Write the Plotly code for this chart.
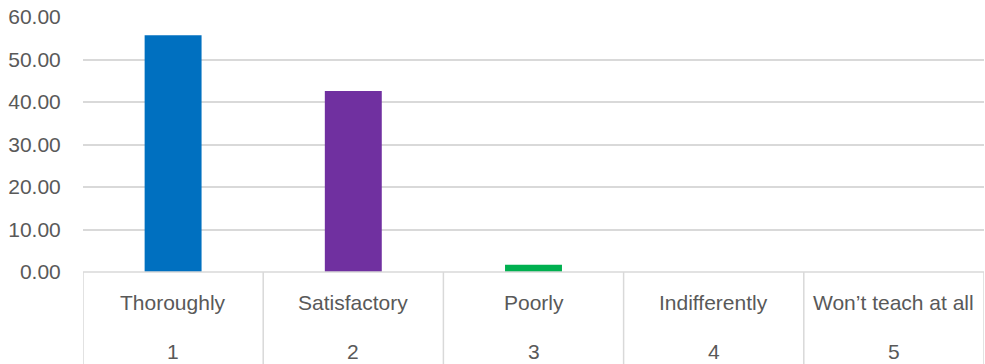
import plotly.graph_objects as go

categories = ["Thoroughly", "Satisfactory", "Poorly", "Indifferently", "Won\u2019t teach at all"]
numbers = ["1", "2", "3", "4", "5"]
values = [55.7, 42.6, 1.7, 0, 0]
colors = ["#0070C0", "#7030A0", "#00B050", "#A5A5A5", "#FFC000"]
y_ticks = [0, 10, 20, 30, 40, 50, 60]
y_tick_labels = ["0.00", "10.00", "20.00", "30.00", "40.00", "50.00", "60.00"]

W, H = 985, 364
ml, mr, mt, mb = 83, 1, 17, 92
plot_h = H - mt - mb

FONT = "Liberation Sans"
GRAY = "#595959"
LINE = "#D9D9D9"

xs = list(range(len(categories)))
fig = go.Figure(go.Bar(x=xs, y=values, marker=dict(color=colors, line=dict(width=0)),
                       hoverinfo="skip"))

shapes = []
# top line of the category table
shapes.append(dict(type="line", xref="paper", yref="paper", x0=0, x1=1, y0=0, y1=0,
                   line=dict(color=LINE, width=1.5)))
for i in range(len(categories) + 1):
    shapes.append(dict(type="line", xref="x", yref="paper", x0=i - 0.5, x1=i - 0.5,
                       y0=0, y1=-mb / plot_h, line=dict(color=LINE, width=1.5)))

annotations = []
for i, (c, n) in enumerate(zip(categories, numbers)):
    annotations.append(dict(x=i, y=-30 / plot_h, xref="x", yref="paper", text=c,
                            showarrow=False, xanchor="center", yanchor="middle",
                            font=dict(family=FONT, size=21, color=GRAY)))
    annotations.append(dict(x=i, y=-79 / plot_h, xref="x", yref="paper", text=n,
                            showarrow=False, xanchor="center", yanchor="middle",
                            font=dict(family=FONT, size=21, color=GRAY)))

fig.update_layout(
    width=W, height=H,
    margin=dict(l=ml, r=mr, t=mt, b=mb, pad=0),
    plot_bgcolor="white", paper_bgcolor="white",
    bargap=0.684,
    showlegend=False,
    xaxis=dict(range=[-0.5, len(categories) - 0.5], showticklabels=False, showgrid=False,
               zeroline=False, showline=False, ticks=""),
    yaxis=dict(range=[0, 60], tickvals=y_ticks, ticktext=y_tick_labels,
               showgrid=True, gridcolor=LINE, gridwidth=1.5, zeroline=False,
               showline=False, ticks="outside", ticklen=17, tickcolor="rgba(0,0,0,0)",
               tickfont=dict(family=FONT, size=21, color=GRAY)),
    shapes=shapes,
    annotations=annotations,
)

fig.write_html("out.html")
